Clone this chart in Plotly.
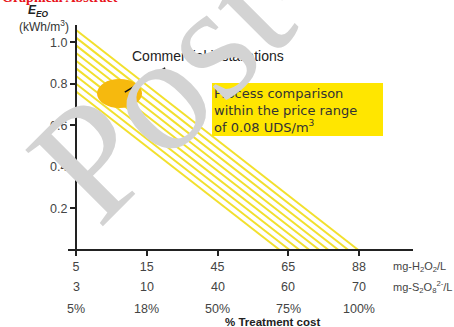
import plotly.graph_objects as go

# category positions on the x axis and the three rows of tick labels
x_pos = [0, 1, 2, 3, 4]
h2o2_labels = ["5", "15", "45", "65", "88"]
s2o8_labels = ["3", "10", "40", "60", "70"]
cost_labels = ["5%", "18%", "50%", "75%", "100%"]

y_ticks = [0.2, 0.4, 0.6, 0.8, 1.0]
y_tick_labels = ["0.2", "0.4", "0.6", "0.8", "1.0"]

# the band of parallel iso-cost lines (start on E_EO axis, end on x axis)
band_y_start = [1.060, 1.023, 0.986, 0.949, 0.912, 0.875, 0.838, 0.801, 0.764]
band_x_end = [3.99, 3.85, 3.71, 3.57, 3.44, 3.30, 3.16, 3.02, 2.88]

# commercial installations blob and its pointer
blob_x = [0.297, 0.933]
blob_y = [0.684, 0.824]
pointer_x = [0.69, 1.26]
pointer_y = [0.761, 0.877]

W, H = 454, 327
L, R, T, B = 68, 41, 25, 74
PW, PH = W - L - R, H - T - B


def px(xp):
    return (xp - L) / PW


def py(yp):
    return (H - B - yp) / PH


FONT = "Liberation Sans, Arial"

fig = go.Figure()

for ys, xe in zip(band_y_start, band_x_end):
    fig.add_trace(go.Scatter(x=[0, xe], y=[ys, 0], mode="lines",
                             line=dict(color="#F2E02E", width=2),
                             hoverinfo="skip", showlegend=False))

fig.add_shape(type="circle", xref="x", yref="y",
              x0=blob_x[0], x1=blob_x[1], y0=blob_y[0], y1=blob_y[1],
              fillcolor="#F6B90E", line_width=0, layer="above")
fig.add_shape(type="line", xref="x", yref="y",
              x0=pointer_x[0], y0=pointer_y[0], x1=pointer_x[1], y1=pointer_y[1],
              line=dict(color="#111", width=1.5), layer="above")

# yellow callout box
fig.add_shape(type="rect", xref="paper", yref="paper",
              x0=px(212), x1=px(383), y0=py(136), y1=py(83),
              fillcolor="#FFE600", line_width=0, layer="above")


def note(text, x, y, size, xanchor="center", xref="paper", color="#333",
         family=FONT, **kw):
    return dict(text=text, xref=xref, yref="paper", x=x, y=y, showarrow=False,
                xanchor=xanchor, yanchor="middle",
                font=dict(family=family, size=size, color=color), **kw)


ann = []
ann.append(note("Commercial installations", px(130), py(56), 14, "left", color="#222"))
ann.append(dict(text="Process comparison<br>within the price range<br>of 0.08 UDS/m<sup>3</sup>",
                xref="paper", yref="paper", x=px(212), y=py(84), showarrow=False,
                xanchor="left", yanchor="top", align="left",
                font=dict(family="DejaVu Sans", size=13, color="#333")))

# second and third rows of x tick labels
for i, (a, b) in enumerate(zip(s2o8_labels, cost_labels)):
    ann.append(note(a, x_pos[i], py(287), 12.5, xref="x", color="#444"))
    ann.append(note(b, x_pos[i], py(309), 12.5, xref="x", color="#444"))

ann.append(note("mg-H<sub>2</sub>O<sub>2</sub>/L", px(391), py(267), 11, "left", color="#444"))
ann.append(note("mg-S<sub>2</sub>O<sub>8</sub><sup>2-</sup>/L", px(391), py(287), 11, "left",
                color="#444"))
ann.append(note("<b>% Treatment cost</b>", px(272), py(322), 11.5, color="#222"))

ann.append(note("<b><i>E</i></b><sub><b><i>EO</i></b></sub>", px(38), py(11), 12, color="#222"))
ann.append(note("(kWh/m<sup>3</sup>)", px(44), py(26), 12, color="#333"))

ann.append(note("<b>Graphical Abstract</b>", px(0), py(-3), 14, "left",
                color="#E8141B", family="Liberation Serif"))

# watermark
ann.append(note("Post-Print", px(294), py(-44), 166, color="#D3D3D3",
                family="Liberation Serif", textangle=-45))

fig.update_layout(
    width=W, height=H,
    margin=dict(l=L, r=R, t=T, b=B),
    paper_bgcolor="white", plot_bgcolor="white",
    showlegend=False,
    annotations=ann,
    xaxis=dict(range=[-0.113, 4.763], tickvals=x_pos, ticktext=h2o2_labels,
               showgrid=False, zeroline=False, showline=True, linecolor="#222",
               linewidth=2, ticks="outside", ticklen=5, tickwidth=2, tickcolor="#222",
               anchor="free", position=3 / PH,
               tickfont=dict(family=FONT, size=12.5, color="#444")),
    yaxis=dict(range=[-0.0145, 1.084], tickvals=y_ticks, ticktext=y_tick_labels,
               showgrid=False, zeroline=False, showline=True, linecolor="#222",
               linewidth=2, ticks="outside", ticklen=5, tickwidth=2, tickcolor="#222",
               anchor="free", position=8 / PW,
               tickfont=dict(family=FONT, size=12.5, color="#444")),
)

# drop the browser's default body margin so the figure sits at the page corner
fig.write_html("out.html", config={"displayModeBar": False},
               post_script="document.body.style.margin = '0';")
